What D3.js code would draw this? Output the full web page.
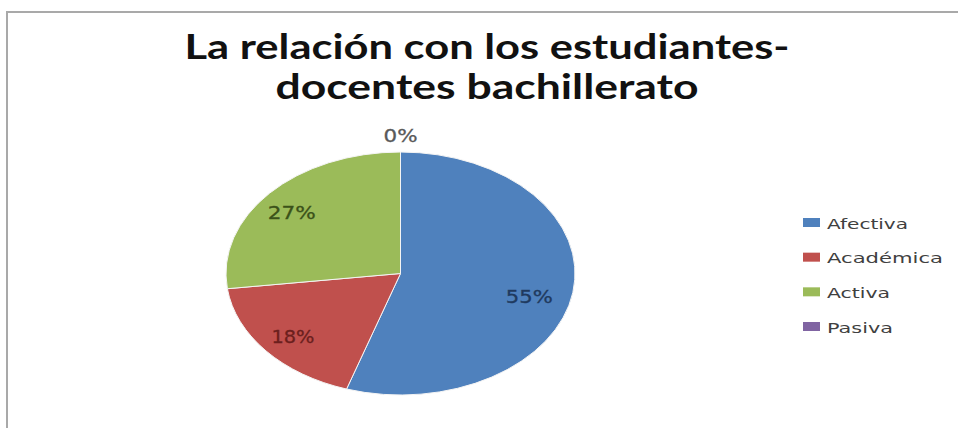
<!DOCTYPE html>
<html>
<head>
<meta charset="utf-8">
<script src="https://cdn.jsdelivr.net/npm/d3@7"></script>
<style>
  html, body { margin: 0; padding: 0; background: #fff; }
  svg { display: block; }
</style>
</head>
<body>
<svg id="chart" width="958" height="428"></svg>
<script>
const titleLines = ["La relación con los estudiantes-", "docentes bachillerato"];
const categories = ["Afectiva", "Académica", "Activa", "Pasiva"];
const values = [55, 18, 27, 0];
const colors = ["#4f81bd", "#c0504d", "#9bbb59", "#8064a2"];
const labelColors = ["#1f3a5f", "#6b1f1d", "#3b5219", "#595959"];

const svg = d3.select("#chart");

// chart frame
svg.append("rect")
  .attr("x", 7).attr("y", 12)
  .attr("width", 1000).attr("height", 500)
  .attr("fill", "#fff")
  .attr("stroke", "#a9a9a9")
  .attr("stroke-width", 2);

// title
const titleWidths = [605, 423];
const titleY = [59, 99];
titleLines.forEach((t, i) => {
  svg.append("text")
    .attr("x", 487).attr("y", titleY[i])
    .attr("text-anchor", "middle")
    .attr("font-family", "Lato, 'Open Sans', sans-serif")
    .attr("font-weight", "bold")
    .attr("font-size", 34)
    .attr("fill", "#111")
    .attr("textLength", titleWidths[i])
    .attr("lengthAdjust", "spacingAndGlyphs")
    .text(t);
});

// pie (elliptical because the original picture is stretched horizontally)
const cx = 400.5, cy = 273.5, rx = 174.5, ry = 121.5;
const sx = rx / ry;
const pie = d3.pie().sort(null).value(d => d.v);
const data = pie(categories.map((c, i) => ({ c, v: values[i], i })));
const arc = d3.arc().innerRadius(0).outerRadius(ry);

const g = svg.append("g").attr("transform", `translate(${cx},${cy}) scale(${sx},1)`);
g.selectAll("path")
  .data(data.filter(d => d.data.v > 0))
  .join("path")
  .attr("d", arc)
  .attr("fill", d => colors[d.data.i])
  .attr("stroke", "#f4f4f4")
  .attr("stroke-width", 1)
  .attr("vector-effect", "non-scaling-stroke");

// data labels
const labelWidths = [47, 43, 48, 34];
const inArc = d3.arc().innerRadius(ry * 0.8).outerRadius(ry * 0.8);
const outArc = d3.arc().innerRadius(ry * 1.13).outerRadius(ry * 1.13);
const labelNudge = [[-9, 8], [0, 1], [-4, 4], [0, 0]];
data.forEach(d => {
  const c = (d.data.v > 0 ? inArc : outArc).centroid(d);
  const fmt = d3.format(".0%");
  const n = labelNudge[d.data.i];
  svg.append("text")
    .attr("x", cx + c[0] * sx + n[0])
    .attr("y", cy + c[1] + n[1])
    .attr("dy", "0.36em")
    .attr("text-anchor", "middle")
    .attr("font-family", "'DejaVu Sans', Verdana, sans-serif")
    .attr("font-size", 17)
    .attr("fill", labelColors[d.data.i])
    .attr("stroke", labelColors[d.data.i])
    .attr("stroke-width", 0.3)
    .attr("textLength", labelWidths[d.data.i])
    .attr("lengthAdjust", "spacingAndGlyphs")
    .text(fmt(d.data.v / 100));
});

// legend
const legendWidths = [81, 116, 63, 66];
const ly = d3.scalePoint().domain(categories).range([223, 327]);
const lg = svg.append("g");
categories.forEach((c, i) => {
  lg.append("rect")
    .attr("x", 803).attr("y", ly(c) - 5)
    .attr("width", 17).attr("height", 9)
    .attr("fill", colors[i]);
  lg.append("text")
    .attr("x", 827).attr("y", ly(c) + 5.5)
    .attr("font-family", "'DejaVu Sans', Verdana, sans-serif")
    .attr("font-size", 14)
    .attr("fill", "#404040")
    .attr("textLength", legendWidths[i])
    .attr("lengthAdjust", "spacingAndGlyphs")
    .text(c);
});
</script>
</body>
</html>
